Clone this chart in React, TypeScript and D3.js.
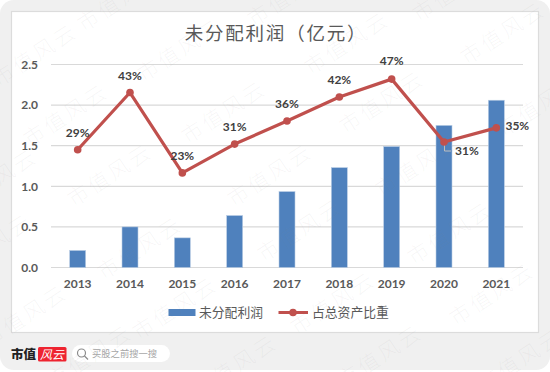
import React from "react";
import * as d3 from "d3";

const years = ["2013", "2014", "2015", "2016", "2017", "2018", "2019", "2020", "2021"];
const profit = [0.21, 0.5, 0.365, 0.64, 0.935, 1.23, 1.49, 1.75, 2.06];
const share = [0.29, 0.431, 0.233, 0.304, 0.361, 0.42, 0.464, 0.309, 0.344];
const shareLabels = ["29%", "43%", "23%", "31%", "36%", "42%", "47%", "31%", "35%"];
const labelDx = [0, 0, 0, 0, 0, 0, 0, 23, 21];
const labelDy = [-17, -17, -17, -17, -17, -17, -18, 9, -2];
const yTicks = [0, 0.5, 1, 1.5, 2, 2.5];
const marks: [number, number][] = [
  [35, 55], [180, 50], [347, 43], [503, 33], [120, 0], [290, -5], [455, -10],
  [66, 115], [224, 112], [382, 102], [540, 105],
  [110, 175], [270, 175], [418, 165], [-5, 180],
  [140, 248], [300, 230], [450, 233], [-10, 245],
  [25, 316], [175, 308], [333, 303], [492, 294],
  [90, 356], [235, 366], [380, 356], [520, 360],
];

const x = d3.scaleBand<string>().domain(years).range([51.5, 522.5]);
const y = d3.scaleLinear().domain([0, 2.5]).range([267.5, 64.5]);
const y2 = d3.scaleLinear().domain([0, 0.5]).range([267.5, 64.5]);
const cx = (d: string) => (x(d) as number) + x.bandwidth() / 2;
const line = d3.line<number>().x((_, i) => cx(years[i])).y((d) => y2(d));
const latin = "Lato, 'Open Sans', sans-serif";
const cjk = "'Noto Sans CJK SC', sans-serif";
const RED = "#c0504d";
const BLUE = "#4f81bd";

export default function App() {
  return (
    <svg width={550} height={372} style={{ position: "absolute", left: 0, top: 0, display: "block" }}>
      <rect x={0} y={0} width={550} height={372} fill="#fff" />
      <rect x={0} y={0} width={550} height={370} rx={14} fill="#f0f0f0" />
      <rect x={11.5} y={11.5} width={527} height={321} fill="#fff" stroke="#dcdcdc" strokeWidth={1.2} />

      {yTicks.map((t) => (
        <g key={t}>
          <line x1={51} x2={523} y1={y(t)} y2={y(t)} stroke="#d9d9d9" strokeWidth={1.2} />
          <text x={38} y={y(t)} dy="0.36em" textAnchor="end" fontFamily={latin} fontWeight={700} fontSize={12} fill="#595959">
            {t.toFixed(1)}
          </text>
        </g>
      ))}

      {years.map((d, i) => (
        <rect key={d} x={cx(d) - 8} width={16} y={y(profit[i])} height={y(0) - y(profit[i])} fill={BLUE} stroke="#b9cde5" strokeWidth={0.6} />
      ))}

      <path d="M444.5 143V151H451" fill="none" stroke="#bfbfbf" strokeWidth={1} />
      <path d={line(share) as string} fill="none" stroke={RED} strokeWidth={3.2} strokeLinejoin="round" />
      {years.map((d, i) => (
        <circle key={d} cx={cx(d)} cy={y2(share[i])} r={3.8} fill={RED} />
      ))}
      {years.map((d, i) => (
        <text key={d} x={cx(d) + labelDx[i]} y={y2(share[i]) + labelDy[i]} dy="0.36em" textAnchor="middle" fontFamily={latin} fontWeight={700} fontSize={12} fill="#404040">
          {shareLabels[i]}
        </text>
      ))}
      {years.map((d) => (
        <text key={d} x={cx(d)} y={283.5} dy="0.36em" textAnchor="middle" fontFamily={latin} fontWeight={700} fontSize={12} fill="#595959">
          {d}
        </text>
      ))}

      <text x={276} y={33} dy="0.36em" textAnchor="middle" fontFamily={cjk} fontSize={18.5} letterSpacing={1.8} fill="#595959">
        未分配利润（亿元）
      </text>

      <rect x={168.5} y={309} width={27} height={7} fill={BLUE} />
      <text x={199} y={312.5} dy="0.36em" fontFamily={cjk} fontSize={12.8} fill="#595959">未分配利润</text>
      <line x1={278.5} x2={308} y1={312.5} y2={312.5} stroke={RED} strokeWidth={3} />
      <circle cx={293} cy={312.5} r={3.8} fill={RED} />
      <text x={312} y={312.5} dy="0.36em" fontFamily={cjk} fontSize={12.8} fill="#595959">占总资产比重</text>

      <text x={11} y={354} dy="0.36em" fontFamily={cjk} fontWeight={900} fontSize={12.5} fill="#222">市值</text>
      <rect x={38} y={347} width={28.5} height={14.5} rx={1.5} fill="#ee2430" />
      <text x={52} y={354.5} dy="0.36em" textAnchor="middle" fontFamily={cjk} fontStyle="italic" fontSize={12} fill="#fff">风云</text>
      <rect x={72} y={345} width={98} height={17} rx={8.5} fill="#fff" />
      <circle cx={81.5} cy={353} r={4} fill="none" stroke="#8c8c8c" strokeWidth={1.2} />
      <line x1={84.5} y1={356} x2={88} y2={359.5} stroke="#8c8c8c" strokeWidth={1.2} />
      <text x={92} y={354} dy="0.36em" fontFamily={cjk} fontSize={9.3} fill="#a6a6a6">买股之前搜一搜</text>

      {marks.map(([mx, my]) => (
        <text key={`${mx}-${my}`} transform={`translate(${mx},${my}) rotate(-33)`} textAnchor="middle" dy="0.36em" fontFamily={cjk} fontWeight={300} fontSize={21} letterSpacing={3} fill="#8c8c8c" fillOpacity={0.07}>
          市值风云
        </text>
      ))}
    </svg>
  );
}
